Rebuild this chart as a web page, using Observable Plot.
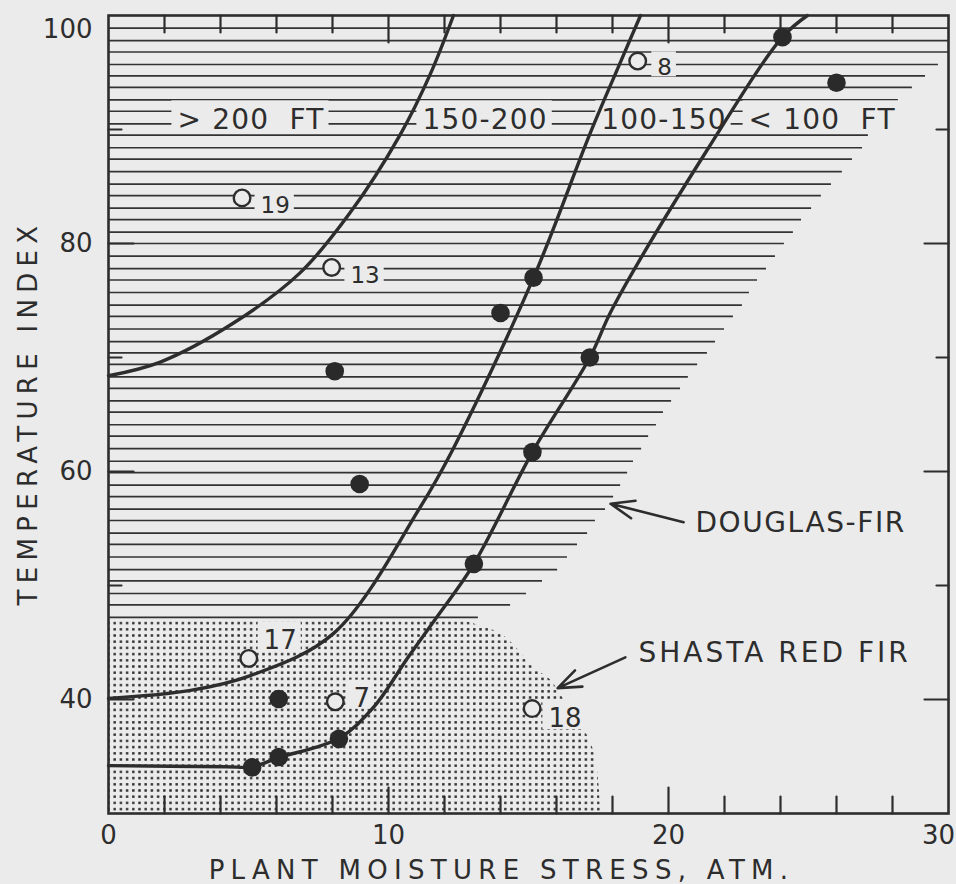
<!DOCTYPE html>
<html>
<head>
<meta charset="utf-8">
<script src="https://cdn.jsdelivr.net/npm/d3@7"></script>
<script src="https://cdn.jsdelivr.net/npm/@observablehq/plot@0.6"></script>
<style>
  html, body { margin: 0; padding: 0; background: #ebebeb; }
  #chart { width: 956px; height: 884px; }
  g[aria-description="xtitle"] text, g[aria-description="ytitle"] text { letter-spacing: 6.3px; }
  g[aria-description="region"] text { letter-spacing: 1.2px; }
  g[aria-description="douglas"] text { letter-spacing: 1.6px; }
  g[aria-description="shasta"] text { letter-spacing: 3px; }
</style>
</head>
<body>
<div id="chart"></div>
<script>
// ---------- data ----------
// hatched (Douglas-fir) band: one horizontal line per entry, from x = 0 to its right end
const hatchY = [98.9, 97.8, 96.8, 95.7, 94.7, 93.7, 92.6, 91.6, 90.5, 89.5, 88.4, 87.4, 86.3, 85.2, 84.2, 83.1, 82.1, 81.0, 80.0, 78.9, 77.8, 76.8, 75.7, 74.6, 73.6, 72.5, 71.4, 70.4, 69.4, 68.3, 67.3, 66.2, 65.2, 64.1, 63.1, 62.0, 60.9, 59.9, 58.8, 57.8, 56.7, 55.7, 54.6, 53.6, 52.5, 51.4, 50.4, 49.3, 48.3, 47.2];
const hatchEnd = [30, 30, 30, 29.64, 29.18, 28.71, 28.21, 27.93, 27.39, 27.14, 26.93, 26.57, 26.21, 25.82, 25.46, 25.11, 24.75, 24.46, 24.14, 23.82, 23.50, 23.18, 22.89, 22.64, 22.32, 22.00, 21.68, 21.39, 21.04, 20.71, 20.43, 20.11, 19.82, 19.57, 19.29, 19.04, 18.75, 18.54, 18.29, 18.04, 17.75, 17.39, 17.11, 16.75, 16.39, 16.04, 15.50, 14.93, 14.36, 13.21];

// stippled (Shasta red fir) region: right boundary x for each y, left edge at x = 0
const stippleY = [30, 30.5, 33.8, 35.8, 38.4, 40.2, 41.7, 42.8, 44.6, 45.8, 46.3, 46.93];
const stippleX = [17.57, 17.57, 17.46, 17.29, 16.75, 16.21, 15.79, 15.18, 14.54, 14.0, 13.46, 12.68];

// boundary curves between site classes
const curveAX = [0, 1.85, 4.45, 6.83, 8.6, 10.43, 11.5, 12.32];
const curveAY = [68.4, 69.6, 73.0, 77.4, 82.6, 89.6, 94.9, 100];
const curveBX = [0, 2.93, 5.07, 8.04, 11.14, 12.27, 15.18, 17.19, 18.3, 19.0];
const curveBY = [40.1, 40.8, 42.1, 45.8, 56.9, 61.8, 77.0, 89.6, 96.0, 100];
const curveCX = [0, 4.2, 5.13, 6.08, 8.23, 9.46, 10.7, 11.6, 13.05, 15.14, 17.19, 18.0, 21.38, 24.07, 24.96];
const curveCY = [34.2, 34.1, 34.1, 34.9, 36.6, 39.3, 43.7, 46.8, 51.9, 61.7, 70.0, 74.3, 88.2, 98.1, 100];

// plots
const filledX = [8.08, 8.97, 6.08, 5.13, 6.08, 8.23, 13.05, 15.14, 15.18, 14.0, 17.19, 24.07, 26.0];
const filledY = [68.8, 58.9, 40.05, 34.05, 34.95, 36.55, 51.9, 61.7, 77.0, 73.9, 70.0, 98.1, 94.1];
const openX = [4.77, 7.97, 18.9, 5.01, 8.1, 15.13];
const openY = [84.0, 77.9, 96.0, 43.6, 39.8, 39.2];
const openLabels = ["19", "13", "8", "17", "7", "18"];
const openLabelX = [5.43, 8.64, 19.6, 5.54, 8.75, 15.71];
const openLabelY = [83.3, 77.2, 95.4, 45.2, 40.1, 38.3];

// zone labels
const zoneLabels = ["> 200  FT", "150-200", "100-150", "< 100  FT"];
const zoneX = [2.46, 11.21, 17.6, 22.86];
const zoneY = [90.8, 90.8, 90.8, 90.8];

// species call-outs
const calloutText = ["DOUGLAS-FIR", "SHASTA RED FIR"];
const calloutX = [20.96, 18.93];
const calloutY = [55.44, 44.1];
const arrowFromX = [20.54, 18.46];
const arrowFromY = [55.55, 43.7];
const arrowToX = [17.93, 16.04];
const arrowToY = [57.17, 41.0];

// axes
const xTickLabels = [0, 10, 20];
const xLastLabel = [30];
const yTickLabels = [40, 60, 80];
const yTopLabel = [100];
const xMinorTicks = [2, 4, 6, 8, 12, 14, 16, 18, 22, 24, 26, 28];
const xMajorTicks = [10, 20];
const yMinorTicks = [50, 70, 90];
const yMajorTicks = [40, 60, 80];
const xTitle = "PLANT MOISTURE STRESS, ATM.";
const yTitle = "TEMPERATURE INDEX";

// ---------- drawing ----------
const ink = "#2d2d2d";
const paper = "#ebebeb";
const font = "DejaVu Sans";

const hatchRows = hatchY.map((y, i) => ({y, x2: hatchEnd[i]}));
const stippleRows = stippleY.map((y, i) => ({y, x: stippleX[i]}));
const toPts = (X, Y) => X.map((x, i) => ({x, y: Y[i]}));
const filled = toPts(filledX, filledY);
const open = toPts(openX, openY);
const openLab = openLabels.map((t, i) => ({t, x: openLabelX[i], y: openLabelY[i]}));
const zones = zoneLabels.map((t, i) => ({t, x: zoneX[i], y: zoneY[i]}));
const callouts = calloutText.map((t, i) => ({t, x: calloutX[i], y: calloutY[i]}));
const arrows = arrowFromX.map((x1, i) => ({x1, y1: arrowFromY[i], x2: arrowToX[i], y2: arrowToY[i]}));
// the labels inside the stippled region are lettered a little larger
const bigLabel = new Set(["17", "7", "18"]);

const tickLine = {draw(ctx, l) { ctx.moveTo(0, 0); ctx.lineTo(0, -l); }};
function tickMarks(values, along, fixed, length, rotate) {
  return Plot.vector(values, {
    x: along === "x" ? d => d : () => fixed,
    y: along === "y" ? d => d : () => fixed,
    length, rotate, anchor: "start", shape: tickLine,
    stroke: ink, strokeWidth: 2.2
  });
}

const svg = Plot.plot({
  width: 956,
  height: 884,
  marginLeft: 108,
  marginRight: 8,
  marginTop: 15,
  marginBottom: 71,
  style: {background: paper, fontFamily: font, color: ink},
  x: {domain: [0, 30], axis: null},
  y: {domain: [30, 100], axis: null},
  marks: [
    Plot.areaX(stippleRows, {y: "y", x1: 0, x2: "x", fill: "url(#stipple)", curve: "catmull-rom"}),
    Plot.ruleY(hatchRows, {y: "y", x1: 0, x2: "x2", stroke: "#333333", strokeWidth: 1.7, ariaDescription: "hatch"}),
    Plot.frame({stroke: ink, strokeWidth: 2.6}),
    tickMarks(xMinorTicks, "x", 30, 17, 0),
    tickMarks(xMajorTicks, "x", 30, 26, 0),
    tickMarks(xMinorTicks, "x", 100, 17, 180),
    tickMarks(xMajorTicks, "x", 100, 27, 180),
    tickMarks(yMinorTicks, "y", 0, 13, 90),
    tickMarks(yMajorTicks, "y", 0, 25, 90),
    tickMarks(yMinorTicks, "y", 30, 12, -90),
    tickMarks(yMajorTicks, "y", 30, 24, -90),
    Plot.line(toPts(curveAX, curveAY), {x: "x", y: "y", curve: "catmull-rom", stroke: ink, strokeWidth: 3.4}),
    Plot.line(toPts(curveBX, curveBY), {x: "x", y: "y", curve: "catmull-rom", stroke: ink, strokeWidth: 3.4}),
    Plot.line(toPts(curveCX, curveCY), {x: "x", y: "y", curve: "catmull-rom", stroke: ink, strokeWidth: 3.4}),
    Plot.arrow(arrows, {x1: "x1", y1: "y1", x2: "x2", y2: "y2", stroke: ink, strokeWidth: 2.6, headLength: 17, headAngle: 42}),
    Plot.dot(open, {x: "x", y: "y", r: 8.3, fill: paper, stroke: ink, strokeWidth: 2.4}),
    Plot.dot(filled, {x: "x", y: "y", r: 9.3, fill: "#2a2a2a", stroke: "none"}),
    Plot.text(openLab, {x: "x", y: "y", text: "t", textAnchor: "start", fontSize: d => bigLabel.has(d.t) ? 26 : 23, fill: ink, fontFamily: font, ariaDescription: "patch"}),
    Plot.text(zones, {x: "x", y: "y", text: "t", textAnchor: "start", fontSize: 28, fill: ink, fontFamily: font, ariaDescription: "region"}),
    Plot.text(callouts.slice(0, 1), {x: "x", y: "y", text: "t", textAnchor: "start", fontSize: 28, fill: ink, fontFamily: font, ariaDescription: "douglas"}),
    Plot.text(callouts.slice(1), {x: "x", y: "y", text: "t", textAnchor: "start", fontSize: 28, fill: ink, fontFamily: font, ariaDescription: "shasta"}),
    Plot.text(xTickLabels, {x: d => d, y: () => 30, text: d => String(d), dy: 22, fontSize: 26, fill: ink, fontFamily: font}),
    Plot.text(xLastLabel, {x: d => d, y: () => 30, text: d => String(d), dy: 22, dx: -10, fontSize: 26, fill: ink, fontFamily: font}),
    Plot.text(yTickLabels, {x: () => 0, y: d => d, text: d => String(d), textAnchor: "end", dx: -16, fontSize: 26, fill: ink, fontFamily: font}),
    Plot.text(yTopLabel, {x: () => 0, y: d => d, text: d => String(d), textAnchor: "end", dx: -16, dy: 14, fontSize: 26, fill: ink, fontFamily: font}),
    Plot.text([xTitle], {text: d => d, frameAnchor: "bottom", textAnchor: "middle", lineAnchor: "middle", dy: 57, dx: -27, fontSize: 26, fill: ink, fontFamily: font, ariaDescription: "xtitle"}),
    Plot.text([yTitle], {text: d => d, frameAnchor: "left", textAnchor: "middle", lineAnchor: "middle", dx: -80, dy: -2, rotate: -90, fontSize: 26, fill: ink, fontFamily: font, ariaDescription: "ytitle"})
  ]
});

document.getElementById("chart").append(svg);

// stipple pattern
const NS = "http://www.w3.org/2000/svg";
const defs = document.createElementNS(NS, "defs");
const pat = document.createElementNS(NS, "pattern");
pat.setAttribute("id", "stipple");
pat.setAttribute("patternUnits", "userSpaceOnUse");
pat.setAttribute("width", "6.2");
pat.setAttribute("height", "6.2");
const pbg = document.createElementNS(NS, "rect");
pbg.setAttribute("width", "6.2"); pbg.setAttribute("height", "6.2"); pbg.setAttribute("fill", paper);
const pdot = document.createElementNS(NS, "rect");
pdot.setAttribute("x", "1.9"); pdot.setAttribute("y", "1.9");
pdot.setAttribute("width", "2.4"); pdot.setAttribute("height", "2.4"); pdot.setAttribute("fill", "#2a2a2a");
pat.append(pbg, pdot);
defs.append(pat);
svg.insertBefore(defs, svg.firstChild);

// clear patches behind labels that sit on the shading (drawn above hatching, below curves)
const hatchG = svg.querySelector('g[aria-description="hatch"]');
if (hatchG) {
  const box = svg.getBoundingClientRect();
  const g = document.createElementNS(NS, "g");
  svg.querySelectorAll('g[aria-description="patch"] text, g[aria-description="region"] text').forEach(t => {
    const r = t.getBoundingClientRect();
    const rect = document.createElementNS(NS, "rect");
    rect.setAttribute("x", r.left - box.left - 6);
    rect.setAttribute("y", r.top - box.top - 3);
    rect.setAttribute("width", r.width + 10);
    rect.setAttribute("height", r.height - 1);
    rect.setAttribute("fill", paper);
    g.append(rect);
  });
  hatchG.after(g);
}
</script>
</body>
</html>
